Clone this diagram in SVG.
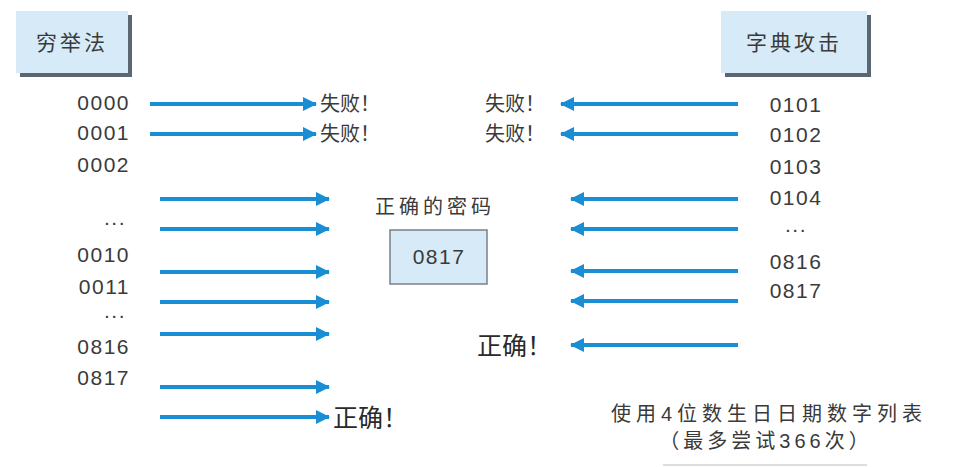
<svg xmlns="http://www.w3.org/2000/svg" width="979" height="467" viewBox="0 0 979 467">
<defs>
<style>
.t{font-family:"Liberation Sans","Noto Sans CJK SC",sans-serif;fill:#3a3a3a;font-size:20px}
.num{font-family:"Liberation Sans",sans-serif;fill:#3a3a3a;font-size:21px;letter-spacing:1.5px}
.hd{font-family:"Noto Sans CJK SC",sans-serif;fill:#3a3a3a;font-size:21px;letter-spacing:3px}
.big{font-family:"Noto Sans CJK SC",sans-serif;fill:#2a2a2a;font-size:25px}
.arr{stroke:#1a8ed4;stroke-width:4;fill:none;marker-end:url(#ah)}
.box{fill:#d6eaf7}
.shadow{fill:#5a6670}
</style>
<marker id="ah" markerUnits="userSpaceOnUse" markerWidth="14" markerHeight="14" viewBox="0 0 14 14" refX="13" refY="7" orient="auto">
<path d="M0,0 L14,7 L0,14 Z" fill="#1a8ed4"/>
</marker>
</defs>
<rect width="979" height="467" fill="#ffffff"/>

<g id="header-left">
<rect class="shadow" x="20" y="15" width="112" height="62"/>
<rect class="box" x="16" y="11" width="112" height="62"/>
<text class="hd" x="72" y="50" text-anchor="middle">穷举法</text>
</g>
<g id="header-right">
<rect class="shadow" x="725" y="15" width="146" height="62"/>
<rect class="box" x="721" y="11" width="146" height="62"/>
<text class="hd" x="794" y="50" text-anchor="middle">字典攻击</text>
</g>

<g id="left-list" text-anchor="end">
<text class="num" x="130" y="110">0000</text>
<text class="num" x="130" y="140">0001</text>
<text class="num" x="130" y="172">0002</text>
<text class="num" x="126" y="225" font-size="14">...</text>
<text class="num" x="130" y="262">0010</text>
<text class="num" x="130" y="294">0011</text>
<text class="num" x="126" y="318" font-size="14">...</text>
<text class="num" x="130" y="354">0816</text>
<text class="num" x="130" y="385">0817</text>
</g>

<g id="right-list" text-anchor="middle">
<text class="num" x="796" y="112">0101</text>
<text class="num" x="796" y="142">0102</text>
<text class="num" x="796" y="174">0103</text>
<text class="num" x="796" y="205">0104</text>
<text class="num" x="796" y="232" font-size="14">...</text>
<text class="num" x="796" y="269">0816</text>
<text class="num" x="796" y="298">0817</text>
</g>

<g id="connectors">
<line class="arr" x1="150" y1="104" x2="316" y2="104"/>
<line class="arr" x1="150" y1="134" x2="316" y2="134"/>
<line class="arr" x1="160" y1="199" x2="329" y2="199"/>
<line class="arr" x1="160" y1="229" x2="329" y2="229"/>
<line class="arr" x1="160" y1="272" x2="329" y2="272"/>
<line class="arr" x1="160" y1="302" x2="329" y2="302"/>
<line class="arr" x1="160" y1="334" x2="329" y2="334"/>
<line class="arr" x1="160" y1="387" x2="329" y2="387"/>
<line class="arr" x1="160" y1="417" x2="329" y2="417"/>
<line class="arr" x1="738" y1="104" x2="561" y2="104"/>
<line class="arr" x1="738" y1="134" x2="561" y2="134"/>
<line class="arr" x1="738" y1="199" x2="571" y2="199"/>
<line class="arr" x1="738" y1="229" x2="571" y2="229"/>
<line class="arr" x1="738" y1="271" x2="571" y2="271"/>
<line class="arr" x1="738" y1="301" x2="571" y2="301"/>
<line class="arr" x1="738" y1="345" x2="571" y2="345"/>
</g>

<g id="results">
<text class="t" x="320" y="111">失败！</text>
<text class="t" x="320" y="141">失败！</text>
<text class="t" x="485" y="111">失败！</text>
<text class="t" x="485" y="141">失败！</text>
<text class="big" x="333" y="427">正确！</text>
<text class="big" x="477" y="355">正确！</text>
</g>

<g id="correct-password">
<text class="t" x="435" y="214" text-anchor="middle" letter-spacing="4">正确的密码</text>
<rect x="390" y="230" width="97" height="54" fill="#d6eaf7" stroke="#7a8088" stroke-width="1.5"/>
<text class="num" x="439" y="264" text-anchor="middle">0817</text>
</g>

<g id="note" text-anchor="middle">
<text class="t" x="769" y="421" letter-spacing="5">使用4位数生日日期数字列表</text>
<text class="t" x="766" y="448" letter-spacing="4">（最多尝试366次）</text>
<line x1="663" y1="465" x2="867" y2="465" stroke="#bbbbbb" stroke-width="1"/>
</g>
</svg>
